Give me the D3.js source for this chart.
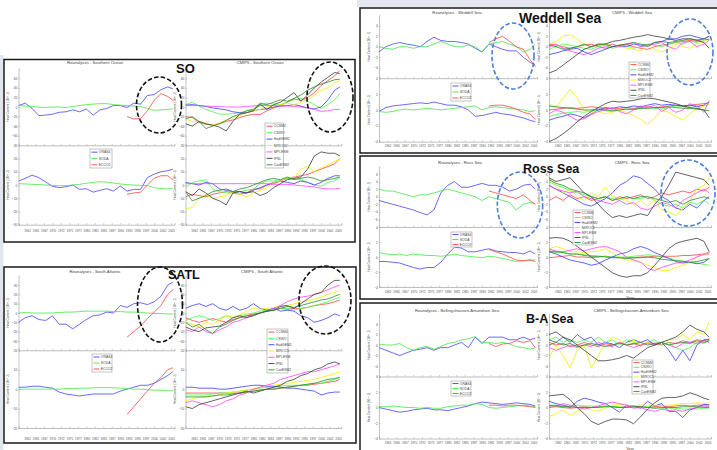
<!DOCTYPE html>
<html><head><meta charset="utf-8">
<script src="https://cdn.jsdelivr.net/npm/d3@7"></script>
<style>
body{margin:0;background:#fff}
svg{display:block;font-family:"Liberation Sans",Arial,sans-serif}
</style>
</head><body><script>
// ---------- shared axes ----------
const YEARS = [1960,1962,1964,1966,1968,1970,1972,1974,1976,1978,1980,1982,1984,1986,1988,1990,1992,1994,1996,1998,2000,2002,2004,2005.5];
const ECCO_YEARS = [1992,1994,1996,1998,2000,2002,2004,2005.5];
const YEAR_TICKS = [1962.5,1965,1967.5,1970,1972.5,1975,1977.5,1980,1982.5,1985,1987.5,1990,1992.5,1995,1997.5,2000,2002.5,2005];
const YEAR_LABELS = ["1962","1965","1967","1970","1972","1975","1977","1980","1982","1985","1987","1990","1992","1995","1997","2000","2002","2005"];
const REA_NAMES = ["ORAS4","SODA","ECCO2"];
const CMIP_NAMES = ["CCSM4","CSIRO","HadGEM2","MIROC5","MPI-ESM","IPSL","CanESM2"];
const REA_COLORS = ["#4444ff","#44e844","#ff4646"];
const CMIP_COLORS = ["#ff4242","#44ff44","#3b3bff","#f0f000","#ff44ff","#3a3a3a","#2b8a2b"];

// ---------- Southern Ocean ----------
const SO_REA_TOP = [
  [3,8,-3,-18,-17,-15,-11,-10,-6,-10,-4,-17,-6,-3,3,3,-1,8,6,24,26,36,42,38],
  [3,2,1,0,-1,0,0,-1,1,3,5,6,7,7,5,4,3,2,1,-3,-7,-6,-5,-4],
  [-20,-25,-24,-8,14,28,22,14]
];
const SO_REA_BOT = [
  [3,5,7.4,5.6,2.3,-1,-2,-1.3,0,-3.3,-2.8,-5.4,-4,-2.8,-4.6,-0.8,-4.6,-3.3,-3.3,5.6,8.2,10,10.8,12],
  [1,0.8,0.5,0.3,0,-0.3,-0.5,-0.5,0,0.5,1.3,2,2.5,2.2,1.5,0.8,0.3,0,-0.3,-0.5,-2,-2.7,-3,-2.5],
  [-7,-6,-5.5,0,5,7,7,4]
];
const SO_CMIP_TOP = [
  [-20,-22,-32,-36,-38,-35,-30,-27,-22,-18,-15,-16,-8,-2,3,10,17,14,20,30,45,55,65,76],
  [5,10,2,-5,-10,-15,-15,-14,-12,-8,-5,3,8,6,5,10,15,18,12,5,-3,5,15,28],
  [4,5,3,1,-2,-4,-6,-10,-12,-12,-8,-5,-4,0,2,3,5,2,-2,-4,0,15,35,42],
  [-25,-30,-30,-35,-38,-33,-28,-22,-18,-12,-8,-5,0,2,5,8,5,10,15,25,35,40,50,55],
  [3,3,3,2,1,1,0,0,0,1,2,3,3,3,2,2,1,0,-2,-5,-9,-8,-5,-5],
  [-35,-40,-30,-35,-38,-42,-50,-30,-15,-12,-8,6,-5,5,10,20,30,12,25,40,52,62,72,70],
  [-25,-20,-30,-45,-40,-35,-28,-20,-15,-8,-5,8,5,10,15,12,18,25,35,42,48,52,57,58]
];
const SO_CMIP_BOT = [
  [-9,-7,-8,-9,-7,-6,-5,-6,-7,-6,-3,-3,0,1,3,5,6,7,8,10,12,14,16,20],
  [-2,2,3,4,-3,-5,-6,-6,-5,-4,-3,1,3,3,4,5,5,4,2,0,-1,2,3,6],
  [2,1,0,2,1,-3,-4,-5,-5,-6,-4,-2,0,2,3,2,1,3,2,0,2,5,7,7],
  [-18,-17,-10,-7,-10,-9,-8,-5,-7,-9,-6,-4,-2,2,3,6,5,12,14,10,13,15,18,19],
  [1,1,1,1,1,1,1,1,1,1,1,1,1,0.5,0.5,0.5,0,-0.5,-1,-1.5,-2.5,-3,-3,-2.5],
  [-5,-8,-3,-6,-10,-12,-15,-6,-5,-6,-5,-8,-6,-2,1,4,5,6,12,22,25,24,24,22],
  [-5,-12,-10,-8,-5,-4,-3,-5,-3,-2,0,2,4,5,4,6,4,5,6,5,3,4,5,6]
];

// ---------- South Atlantic ----------
const SATL_REA_TOP = [
  [-10,-5,-3,-7,-8,-3,-12,-12,-17,-12,-7,-3,-2,1,0,8,6,10,11,9,12,18,30,33],
  [0,0.5,0,0,0,0,0.5,1,1,1.5,2,2,2,2,1.5,1.5,1,1,0.5,0,-0.5,-0.5,-1,-1],
  [-26,-20,-14,-6,1,8,20,25]
];
const SATL_REA_BOT = [
  [1,1,1.5,1.5,1,0.5,-1.5,-2.5,-3,-3.5,-3,-2.5,-2.5,-2.5,-2.5,-1,0,1,2,2,3,5,7,9],
  [0,0,0,0,0,0,0,0.3,0.3,0.5,0.5,0.7,0.8,0.8,0.7,0.5,0.3,0,0,-0.3,-0.5,-0.6,-0.8,-0.8],
  [-13,-9,-5,-1,3,6,10,11]
];
const SATL_CMIP_TOP = [
  [-5,-8,-10,-8,-6,-8,-10,-7,-5,-3,-1,0,2,3,5,4,5,5,6,8,9,10,12,14],
  [-8,-5,-3,-5,-8,-6,-3,-5,-3,-1,0,2,3,3,5,5,3,5,6,8,10,12,15,17],
  [5,8,10,7,10,5,3,7,3,5,10,5,3,5,2,3,2,-3,-5,-10,-8,-5,-1,-3],
  [-10,-12,-15,-10,-12,-8,-3,-5,-2,2,5,4,5,6,8,8,10,12,13,15,17,20,22,24],
  [-18,-20,-15,-20,-22,-18,-15,-10,-8,-5,-2,0,2,5,8,12,15,17,18,20,22,25,28,30],
  [-15,-18,-20,-16,-15,-14,-10,-5,-3,-5,-3,0,2,3,7,8,5,10,15,20,22,30,35,35],
  [-10,-15,-12,-18,-22,-15,-12,-8,-5,-3,-2,0,2,3,5,7,6,8,10,12,14,15,18,20]
];
const SATL_CMIP_BOT = [
  [-2,-2,-2,-2,-2,-2,-2,-2,-2,-1.5,-1,-0.5,0,0,0.5,1,1.5,2,2,2.5,3,3.5,4,5],
  [-3,-3,-3,-3,-2.5,-2,-2,-1.5,-1,-0.5,0,0.5,1,1,1.5,2,2,2,2.5,3,3,4,5,6],
  [1,1,0.5,0.5,0.5,0,0,0.5,1,1.5,2,2,1.5,1.5,1,0.5,0.5,0,-0.5,-1,-3,-2,-1.5,-1.5],
  [-6,-5,-4,-4,-3.5,-3,-2,-1.5,-1,-0.5,0,1,2,2,2.5,3,3.5,4,4.5,5,6,7,8,9],
  [-7,-6,-7,-8,-9,-8,-6,-5,-3,-2,0,1,2,3,5,6,7,8,9,9,10,11,12,13],
  [-9,-10,-8,-7,-6,-5,-4,-3,-2,-1,-2,-1,0,1,2,4,5,7,8,10,11,13,14,13],
  [-4,-4,-4,-4,-3.5,-3,-3,-2.5,-2,-1.5,-1,-0.5,0,0,0.5,1,1.5,2,2.5,3,4,5,5.5,6]
];

// ---------- Weddell Sea ----------
const WED_REA_TOP = [
  [-1,0,0.5,0.8,0.5,0.3,0,1,1.8,1.2,1,1,0.8,0.5,-0.3,-1,0.5,0,-0.5,-0.8,-0.8,-2,-3,-3.5],
  [0,-0.3,-0.5,0,0,-0.3,0,0,0.5,1,0.5,0,0,0.3,0,-1,0.5,0.8,1,0.5,0,-1,-0.5,0.5],
  [0.8,1.5,2,1,0,-0.5,-2.5,-3.8]
];
const WED_REA_BOT = [
  [-0.2,0.3,0.5,0.6,0.7,0.8,0.9,0.8,1,0.8,0.6,0.6,0.4,0,-0.8,-0.7,-0.5,-0.3,-0.5,-0.6,-0.8,-1,-1.3,-1.5],
  [-0.2,-0.3,-0.2,0,0.1,0,0.1,0.2,0.1,0,0.1,0.2,0.3,0.4,0.5,0,0.3,0.4,0.3,0.2,0.1,0,-0.2,-0.1],
  [0.5,0.6,0.6,0.4,0.1,-0.3,-0.5,-1.2]
];
const WED_CMIP_TOP = [
  [0.5,0.3,0,-0.3,0,0.3,0.5,0,-0.3,0,0.3,0.5,0,-0.3,-0.5,0,0.3,0.5,0.8,1,1.2,1,1.5,2],
  [-0.5,0,0.5,0.3,0,-0.3,-0.5,0,0.3,-0.3,0,0.3,-0.3,0,0.5,0.3,0,0.5,0.8,0.5,1,0.8,1.2,1.5],
  [-1.5,-1.2,-0.8,-0.5,-0.3,-1,-1.5,-1,-0.5,0,0.2,0,0.5,0.3,0,0.8,1,1.5,1.5,2,2.2,1.8,1.5,2],
  [0.5,1,2,2.3,1.5,0.5,0,0.5,0.3,0.5,0,-0.3,-0.5,-0.8,0.3,-0.5,-1,-0.5,0.5,0,-0.3,0.5,1,1.5],
  [0,0.5,-0.3,-0.8,-1.2,-1.5,-1,-0.3,0,0.5,0,0.5,0.8,0,0.3,0.5,0.8,0,-0.5,0.8,1,0,0.5,1.2],
  [-5,-4.5,-3.5,-2.5,-1.5,-0.5,0,0.5,0.5,1,1.2,1.5,1.8,2,2.3,2,1.8,1.5,1.2,1.5,1.5,1.2,0.8,-0.3],
  [0.3,0,-0.5,-0.3,0,0.5,0,0.3,0.5,0,0.3,0.5,0.8,0.5,0.3,0.8,1,0.8,1,1.2,1.5,1.3,1.5,1.3]
];
const WED_CMIP_BOT = [
  [0,0.1,0.2,0.3,0.2,0.3,0.4,0.3,0.2,0.1,0.2,0.3,0.2,0.3,0.4,0.3,0.4,0.5,0.6,0.5,0.6,0.7,0.8,0.9],
  [-0.8,-0.6,-0.4,-0.3,-0.2,-0.3,-0.1,0,-0.1,-0.2,0,0.1,0,0.2,0.3,0.2,0.1,0.3,0.5,0.4,0.5,0.6,0.5,0.7],
  [-1.3,-1,-0.8,-0.5,-0.7,-1,-0.5,0,0.3,0.2,0.4,0.3,0.5,0.4,0.6,0.8,0.6,0.7,0.6,0.5,0.6,0.4,0.6,1],
  [0.8,0.3,1.5,2.6,1.5,0,-0.3,-0.2,-0.5,-0.3,0,-0.3,-0.7,-1.2,-1.8,-1,0,-0.3,-0.8,-1.3,-0.5,0.2,0.5,0.8],
  [-0.5,0,-0.3,-0.8,-1.3,-1.1,-0.6,-0.2,0,0.3,-0.2,-0.5,0,0.5,0.3,0.6,-0.2,0.3,-0.3,0,0.8,0.5,-0.3,1.2],
  [-4,-3.6,-3,-2.3,-1.5,-0.8,-0.2,0.3,0.8,1.1,1,1.1,1.2,1.4,1.5,1.4,1.2,1,0.8,0.5,0.3,0.2,0,-1],
  [0.5,0.4,0.3,0.2,0.1,0,0,0.1,0,-0.1,0,0.1,0.1,0.2,0.2,0.3,0.3,0.4,0.3,0.2,0.2,0.1,0,-0.1]
];

// ---------- Ross Sea ----------
const ROSS_REA_TOP = [
  [-1,-1.5,-2,-2.5,-3,-3.5,-4.2,-4.8,-3.5,1,3,4,2.5,2.5,3,3.5,3,3,2.5,1.5,2,3,3.3,2],
  [2,1.5,1.5,1,0.5,0,0.5,0.5,1,1.5,2,1.5,1,0.5,0,-1,0,-0.5,-1,-1.5,-3.5,-2,-1.5,-2],
  [1.5,1,0.5,0,-0.5,0.5,-1,-2]
];
const ROSS_REA_BOT = [
  [-0.6,-0.6,-0.7,-0.8,-1.1,-1.4,-1.6,-1.4,-1.4,-0.7,0.4,1.3,1.2,0.7,0.7,0.9,1.1,0.8,0.7,0.6,0.6,0.4,0.8,0.4],
  [0.6,0.4,0.3,0.4,0.2,0.4,0.3,0.2,0.2,0.1,0.2,0.4,0.2,0.1,0,-0.1,0.1,0,-0.2,-0.4,-0.6,-0.5,-0.4,-0.4],
  [1,0.7,0.4,0,-0.4,-0.5,-0.4,-0.6]
];
const ROSS_CMIP_TOP = [
  [-1,0,-1,0.5,-0.5,0,-1,-0.5,0,-1,0,-0.5,0,0.5,-0.5,0,1,0.5,1,1.5,1,2,1.5,2.5],
  [4,3,2.5,1.5,1,0.5,0,-0.5,0,-0.5,-1,0,-0.5,-0.5,0,-1,-2,-2.5,-2,-3,-1.5,-2,-1,-2],
  [3,2,1,0,-1,-2,-2.5,-1.5,-0.5,1,3,4,5.5,5,3.5,2,0,-1,-3,-3.5,-2,-3,-1,0],
  [5,3,1,2,0,-1,1,0,2.5,0,-0.5,-1,-2,-1,-2.5,-1,-3.5,-4,-5,-3,-1,2,3,5],
  [3,2,1.5,1,1.5,0,-0.5,-1,-1.5,-2,-1,-2,-1.5,-3,-3.5,-2.5,-1.5,-2,-3,-1,0,1,2,1],
  [5,4,4.5,5,3,1,0,-2,-4,-5.5,-5,-5.5,-5,-4.5,-5,-2,0,3,6.5,6,5.5,5,4.5,3],
  [4.5,3.5,3,2,1.5,1,0,-0.5,0,-1,-0.5,0,-0.5,0,0,-0.5,-1,-1.5,-1,-2,-1,-0.5,0,-0.5]
];
const ROSS_CMIP_BOT = [
  [-0.1,0,0.1,0.2,0,0,-0.1,0,0.1,0,-0.1,-0.1,-0.1,0,0,0.1,0.1,0.1,0.1,0.2,0.2,0.3,0.4,0.4],
  [0.7,0.6,0.6,0.4,0.4,0.3,0.2,0.1,0.1,0,0,0,0.1,0.2,0.3,0.2,0,-0.1,-0.4,-0.5,-0.7,-0.8,-1,-1.1],
  [0.7,0.4,0,-0.4,-0.6,-0.8,-1.1,-0.9,-0.4,0,0.4,0.6,1.1,1.4,1.1,0.6,0.2,-0.2,-0.6,-0.8,-0.7,-0.9,-0.7,-0.2],
  [1.1,1.4,1.1,0.7,0.7,0.6,0.7,0.8,1.1,0.6,0,-0.4,-0.4,-0.7,-1.1,-1.4,-1.8,-1.8,-1.4,-1.1,-0.7,0,0.4,0.7],
  [1.1,0.8,0.7,0.9,1.1,0.8,1.1,1.3,1.4,1.1,0.7,0,-0.4,-0.7,-1.5,-1.8,-1.4,-1.1,-0.8,-0.7,-0.4,0,0.4,0.6],
  [2.5,2.6,2.5,2.1,1.4,0.7,0,-0.7,-1.4,-2.1,-2.5,-2.7,-2.5,-2.5,-2.1,-1.1,0,1.1,1.8,2.1,2.3,2.5,2.1,0.7],
  [0.8,0.7,0.6,0.4,0.4,0.2,0.1,0.1,0,-0.1,-0.1,-0.2,-0.1,-0.1,0,-0.1,-0.3,-0.4,-0.5,-0.6,-0.7,-0.6,-0.4,-0.2]
];

// ---------- Bellingshausen-Amundsen Sea ----------
const BA_REA_TOP = [
  [-0.5,-1,-1.5,-2,-1.5,-1,-0.8,-0.5,-1,-0.5,-0.5,0,0.5,-0.5,1.5,0.3,1.5,1.5,1.5,1,1,1.5,1,1.3],
  [0.2,0,0,0.3,-0.5,-1,-0.5,-0.3,-0.8,-0.3,0.3,0.5,1,1.2,1.6,0.5,0.5,0.3,0.5,0.2,-0.3,-0.5,-0.8,-0.5],
  [0.3,-0.3,0.2,0.3,0.8,0.5,0.8,-0.5]
];
const BA_REA_BOT = [
  [0,-0.2,-0.4,-0.6,-0.5,-0.3,-0.2,-0.1,-0.3,-0.3,-0.4,-0.2,0,0.2,0.5,0.7,0.6,0.5,0.4,0.5,0.6,0.5,0.4,0.2],
  [0.1,0.1,0.2,0.1,0,0,-0.1,0,-0.1,-0.1,0.1,0.2,0.3,0.3,0.5,0.4,0,-0.1,0,0.1,0.2,0.3,0.2,0.1],
  [0.3,0.3,0.2,0.3,0.3,0.2,0.1,0]
];
const BA_CMIP_TOP = [
  [0.5,0,0.3,-0.3,0,0.5,0,-0.3,0.3,0,0.5,0,0.3,-0.2,0.5,0.3,0,0.5,0.3,0.8,0.5,1,0.8,1.2],
  [1,1.5,0.5,1,0.5,1,0.5,1.5,0.5,1,0,1,0.5,0,0.5,1,0,0.5,-0.5,-1,-0.5,0.5,0.3,1],
  [1,0.5,1.5,0.5,2,1,1.5,0,0.5,0.2,-0.5,0.5,1,0.5,1,0,0.5,-1,-3,-1,-3,0,1,1],
  [-2.5,0,-2,-4.4,-1,0,-4.4,-2,0.5,1.5,1,0,1,0,0.5,0,0.5,1,1,2,1,2.5,2,4.5],
  [-0.5,-1,-0.5,0,-0.5,0,-0.3,0.5,0,-0.3,0.5,0,-0.5,0,0.3,0,0.5,0,-0.5,0.3,0.5,0.3,0.8,0.5],
  [2,2.5,1.5,1,0,-1,-2,-3,-3,-2.8,-2.5,-2,-2.5,-1.5,-0.5,0,0.5,1,1.5,2.5,3.8,3,2.5,1.5],
  [0,0.5,0,0.3,-0.3,0,0.3,0,-0.3,0,0.3,0,0.2,0.5,0,0.3,0.5,0,0.3,0.5,0.3,0.8,0.5,0.8]
];
const BA_CMIP_BOT = [
  [0,0.1,0,-0.1,0,0.1,0,0.1,0.2,0.1,0,0.1,0.2,0.1,0,0.1,0.2,0.1,0.2,0.3,0.2,0.3,0.3,0.4],
  [0.3,0.3,0.2,0.2,0.3,0.2,0.2,0.1,0.1,0.1,0.1,0,0,0,0.1,0,-0.1,-0.1,-0.1,-0.2,-0.2,-0.2,-0.1,-0.1],
  [0.8,0.5,0.3,0,0.8,1.2,1,0.7,0.5,0,-0.6,0.3,0.2,-0.1,0.8,0.2,0.5,-0.5,-0.5,-1.3,-0.3,0,0.4,0.3],
  [-1.2,-0.8,-0.3,-1,-0.5,0,-0.3,-0.5,0,0.3,0.4,0.3,0.2,0.3,0.3,0.3,0.2,0.3,0.4,0.5,0.5,0.6,0.5,0.6],
  [0.3,0.2,0.5,0.3,0,-0.2,0,0.2,0.5,0.7,0.5,0.3,-0.1,0,-0.3,-0.5,-0.2,-0.4,-0.3,-0.5,-0.2,0,0.2,0.1],
  [1.5,1.6,1.7,1,0,-0.8,-1.8,-2.2,-1.8,-1.5,-1.5,-1.6,-2.1,-1.2,-0.2,0.6,1.2,1.3,1.3,1.5,1.9,1.6,1.2,1],
  [0.2,0.2,0.1,0.1,0,0,0,0,0.1,0.1,0,0,0.1,0.1,0,-0.1,0,0,0,0.1,0.1,0.1,0,0]
];

// ---------- figure layout ----------
const FIGS = [
  { name:"SO", box:[4,59.5,351,182.5], title:[176,72.5,13],
    colX:[18.5,185.5], colW:[156,156],
    top:[68.7,145.3], topDom:[-80,80], topTicks:[-60,-40,-20,0,20,40,60],
    bot:[145.3,224.7], botDom:[-30,30], botTicks:[-30,-20,-10,0,10,20,30],
    xLabY:230.8, unit:"22", headY:63, heads:["Reanalyses - Southern Ocean","CMIP5 - Southern Ocean"], headX:[95,260],
    rea:[SO_REA_TOP,SO_REA_BOT], cmip:[SO_CMIP_TOP,SO_CMIP_BOT],
    rLeg:[90,149,22,19], cLeg:[265,123,18.5,45],
    ell:[[159,105,22.5,28],[330,97,23,35]], ellColor:"#111", yearLabel:false },
  { name:"SATL", box:[4,267,352,176], title:[168,278.5,12.5],
    colX:[18.5,185.5], colW:[156,156],
    top:[275.7,350.3], topDom:[-40,40], topTicks:[-30,-20,-10,0,10,20,30],
    bot:[350.3,428], botDom:[-20,20], botTicks:[-20,-10,0,10,20],
    xLabY:438.5, unit:"22", headY:272, heads:["Reanalyses - South Atlantic","CMIP5 - South Atlantic"], headX:[95,262],
    rea:[SATL_REA_TOP,SATL_REA_BOT], cmip:[SATL_CMIP_TOP,SATL_CMIP_BOT],
    rLeg:[92,354,20,18], cLeg:[267,329,21,44],
    ell:[[160,304.5,22.5,37.5],[325,300,26,34]], ellColor:"#111", yearLabel:false },
  { name:"Weddell Sea", box:[360,8,370,145], title:[519,23,14],
    colX:[379,549], colW:[158,162],
    top:[15.2,78.2], topDom:[-6,6], topTicks:[-4,-2,0,2,4],
    bot:[78.2,141.7], botDom:[-4,4], botTicks:[-4,-2,0,2,4],
    xLabY:146.3, unit:"21", headY:12.5, heads:["Reanalyses - Weddell Sea","CMIP5 - Weddell Sea"], headX:[457,632],
    rea:[WED_REA_TOP,WED_REA_BOT], cmip:[WED_CMIP_TOP,WED_CMIP_BOT],
    rLeg:[451,83,20,18], cLeg:[629,62,21,36],
    ell:[[513,56,21,33],[690,52,23,33]], ellColor:"#4a7fdc", yearLabel:false },
  { name:"Ross Sea", box:[360,156,370,143], title:[523,172.8,12.5],
    colX:[379,549], colW:[158,162],
    top:[166.4,227], topDom:[-8,8], topTicks:[-6,-4,-2,0,2,4,6],
    bot:[227,287], botDom:[-4,4], botTicks:[-4,-2,0,2,4],
    xLabY:291.8, unit:"21", headY:162.8, heads:["Reanalyses - Ross Sea","CMIP5 - Ross Sea"], headX:[460,632],
    rea:[ROSS_REA_TOP,ROSS_REA_BOT], cmip:[ROSS_CMIP_TOP,ROSS_CMIP_BOT],
    rLeg:[451,232,21,15], cLeg:[573,210,20,35],
    ell:[[520,205,22.7,33],[688,193,27,33]], ellColor:"#4a7fdc", yearLabel:true, yearY:297.3 },
  { name:"B-A Sea", box:[360,303,370,160], title:[526,322.8,12.5],
    colX:[379,549], colW:[158,162],
    top:[313.5,376.5], topDom:[-6,6], topTicks:[-4,-2,0,2,4],
    bot:[376.5,438.5], botDom:[-4,4], botTicks:[-4,-2,0,2,4],
    xLabY:442.8, unit:"21", headY:311, heads:["Reanalyses - Bellingshausen-Amundsen Sea","CMIP5 - Bellingshausen-Amundsen Sea"], headX:[457,631],
    rea:[BA_REA_TOP,BA_REA_BOT], cmip:[BA_CMIP_TOP,BA_CMIP_BOT],
    rLeg:[451,381,20,15], cLeg:[632,360,21,34],
    ell:[], ellColor:"#4a7fdc", yearLabel:true, yearY:448.3 }
];

// ---------- drawing ----------
const W = 717, H = 450;
const svg = d3.select("body").append("svg").attr("width", W).attr("height", H);
svg.append("rect").attr("width", W).attr("height", H).attr("fill", "#fff");
svg.append("rect").attr("x", 0).attr("y", 55).attr("width", 3.5).attr("height", H - 55).attr("fill", "#e2e4ee");
svg.append("rect").attr("x", 357).attr("y", 0).attr("width", W - 357).attr("height", 7).attr("fill", "#e6e8ef");

let clipCount = 0;

function drawPanel(g, o) {
  const x = d3.scaleLinear().domain([1960, 2006]).range([o.x0, o.x0 + o.w]);
  const y = d3.scaleLinear().domain(o.dom).range([o.y1, o.y0]);

  // y axis with inward ticks
  const ya = g.append("g").attr("transform", `translate(${o.x0},0)`)
    .call(d3.axisLeft(y).tickValues(o.ticks).tickSize(-1.5).tickPadding(1.1).tickFormat(d3.format("d")));
  ya.select(".domain").attr("stroke", "#9a9a9a").attr("stroke-width", 0.6);
  ya.selectAll(".tick line").attr("stroke", "#9a9a9a").attr("stroke-width", 0.5);
  ya.selectAll(".tick text").attr("font-size", 3.3).attr("fill", "#555").attr("font-family", "Liberation Sans, Arial, sans-serif");

  // x axis along panel bottom
  const xa = g.append("g").attr("transform", `translate(0,${o.y1})`)
    .call(d3.axisBottom(x).tickValues(YEAR_TICKS).tickSize(-1.5)
      .tickFormat((d, i) => o.labels ? YEAR_LABELS[i] : ""));
  xa.select(".domain").attr("stroke", "#a0a0a0").attr("stroke-width", 0.7);
  xa.selectAll(".tick line").attr("stroke", "#9a9a9a").attr("stroke-width", 0.5);
  xa.selectAll(".tick text").attr("font-size", 3.0).attr("fill", "#555")
    .attr("font-family", "Liberation Sans, Arial, sans-serif")
    .attr("y", o.labels ? o.labY - o.y1 : 0).attr("dy", "0.35em");

  // y-axis title
  const yt = g.append("text")
    .attr("transform", `translate(${o.x0 - 9.2},${(o.y0 + o.y1) / 2}) rotate(-90)`)
    .attr("text-anchor", "middle").attr("font-size", 3.1).attr("fill", "#555");
  yt.append("tspan").text("Heat Content (10");
  yt.append("tspan").attr("font-size", 2.3).attr("dy", -1.1).text(o.unit);
  yt.append("tspan").attr("dy", 1.1).text(" J)");

  // data lines, clipped to the panel
  const id = "clip" + (clipCount++);
  g.append("clipPath").attr("id", id).append("rect")
    .attr("x", o.x0).attr("y", o.y0).attr("width", o.w).attr("height", o.y1 - o.y0);
  const line = d3.line().x(d => x(d[0])).y(d => y(d[1]));
  const lg = g.append("g").attr("clip-path", `url(#${id})`);
  o.series.forEach((vals, i) => {
    const yrs = vals.length === ECCO_YEARS.length ? ECCO_YEARS : YEARS;
    lg.append("path").datum(vals.map((v, k) => [yrs[k], v]))
      .attr("d", line).attr("fill", "none")
      .attr("stroke", o.colors[i]).attr("stroke-width", 0.8).attr("stroke-linejoin", "round");
  });
}

function drawLegend(g, box, names, colors) {
  const [lx, ly, lw, lh] = box;
  const lgd = g.append("g");
  lgd.append("rect").attr("x", lx).attr("y", ly).attr("width", lw).attr("height", lh)
    .attr("fill", "#fff").attr("stroke", "#8a8a8a").attr("stroke-width", 0.5);
  const step = lh / names.length;
  names.forEach((n, i) => {
    const cy = ly + step * (i + 0.5);
    lgd.append("line").attr("x1", lx + 1.5).attr("x2", lx + 7.5).attr("y1", cy).attr("y2", cy)
      .attr("stroke", colors[i]).attr("stroke-width", 0.9);
    lgd.append("text").attr("x", lx + 8.8).attr("y", cy).attr("dy", "0.35em")
      .attr("font-size", 3.4).attr("fill", "#444").text(n);
  });
}

FIGS.forEach(f => {
  const g = svg.append("g");
  const [bx, by, bw, bh] = f.box;
  g.append("rect").attr("x", bx).attr("y", by).attr("width", bw).attr("height", bh)
    .attr("fill", "#fff").attr("stroke", "#1a1a1a").attr("stroke-width", 1.5);

  [0, 1].forEach(c => {
    const sets = c === 0 ? f.rea : f.cmip;
    const colors = c === 0 ? REA_COLORS : CMIP_COLORS;
    drawPanel(g, { x0: f.colX[c], w: f.colW[c], y0: f.top[0], y1: f.top[1], dom: f.topDom, ticks: f.topTicks,
      labels: false, unit: f.unit, series: sets[0], colors });
    drawPanel(g, { x0: f.colX[c], w: f.colW[c], y0: f.bot[0], y1: f.bot[1], dom: f.botDom, ticks: f.botTicks,
      labels: true, labY: f.xLabY, unit: f.unit, series: sets[1], colors });
    g.append("text").attr("x", f.headX[c]).attr("y", f.headY).attr("dy", "0.35em")
      .attr("text-anchor", "middle").attr("font-size", 4.2).attr("fill", "#444").text(f.heads[c]);
  });

  drawLegend(g, f.rLeg, REA_NAMES, REA_COLORS);
  drawLegend(g, f.cLeg, CMIP_NAMES, CMIP_COLORS);

  if (f.yearLabel) {
    g.append("text").attr("x", f.colX[1] + f.colW[1] / 2).attr("y", f.yearY).attr("dy", "0.35em")
      .attr("text-anchor", "middle").attr("font-size", 4).attr("fill", "#444").text("Year");
  }

  f.ell.forEach(e => {
    g.append("ellipse").attr("cx", e[0]).attr("cy", e[1]).attr("rx", e[2]).attr("ry", e[3])
      .attr("fill", "none").attr("stroke", f.ellColor).attr("stroke-width", 1.6)
      .attr("stroke-dasharray", "4.5,2.2");
  });

  g.append("text").attr("x", f.title[0]).attr("y", f.title[1])
    .attr("font-size", f.title[2]).attr("font-weight", "bold").attr("fill", "#111").text(f.name);
});
</script></body></html>
